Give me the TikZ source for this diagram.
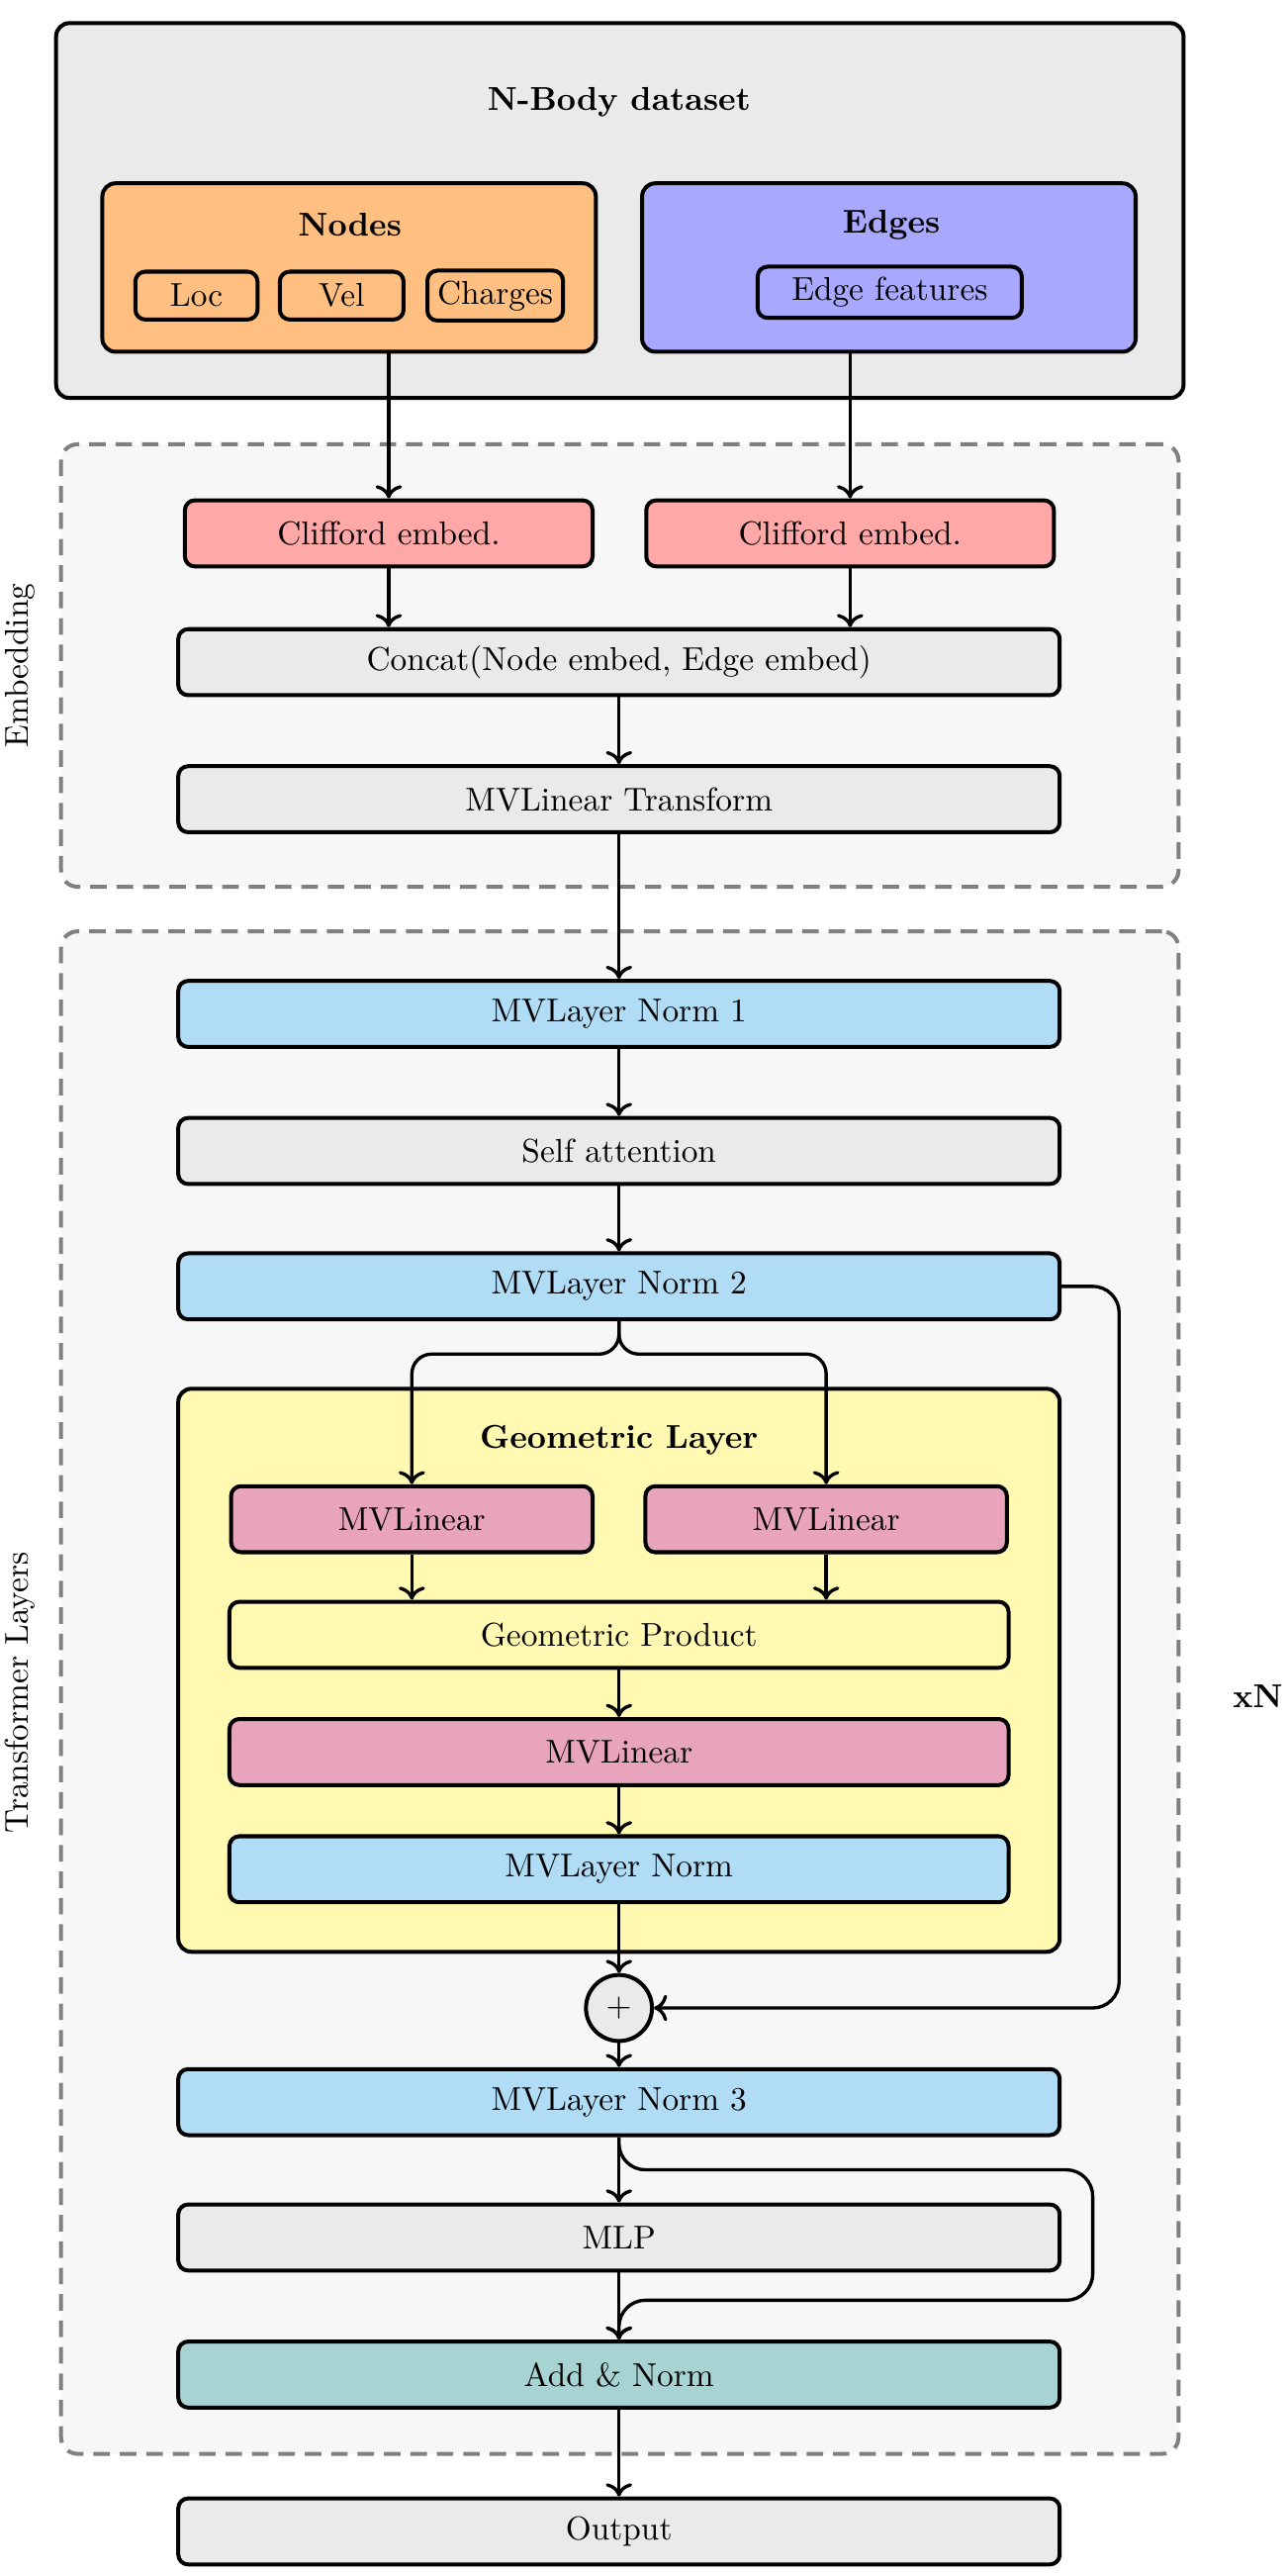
\documentclass[tikz,border=0pt]{standalone}
\usepackage{tikz}
\usetikzlibrary{arrows.meta}

\definecolor{boxgray}{HTML}{EAEAEA}
\definecolor{bggray}{HTML}{F7F7F7}
\definecolor{nodeorange}{HTML}{FFBF80}
\definecolor{edgeblue}{HTML}{A8A8FF}
\definecolor{embred}{HTML}{FFA8A8}
\definecolor{normblue}{HTML}{B1DCF6}
\definecolor{linpink}{HTML}{E8A4BD}
\definecolor{geoyellow}{HTML}{FFF9B1}
\definecolor{addteal}{HTML}{A7D3D3}

\begin{document}
\begin{tikzpicture}[x=0.5pt, y=-0.5pt,
    block/.style={draw, very thick, rounded corners=3pt, minimum height=20pt, inner sep=3pt},
    wide/.style={block, minimum width=267pt},
    half/.style={block, minimum width=123.5pt},
    inner/.style={block, minimum width=236pt},
    small/.style={block, minimum width=109.5pt},
    tag/.style={draw, very thick, rounded corners=3pt, inner sep=3pt, minimum height=14.5pt},
    group/.style={draw=gray, very thick, dash pattern=on 5pt off 3pt, rounded corners=5pt, fill=bggray},
    arr/.style={-{To[length=4pt, width=8pt]}, line width=1pt}]
  \useasboundingbox (0,0) rectangle (780,1560);

  % input data
  \node[draw, very thick, rounded corners=4pt, fill=boxgray, minimum width=341.5pt, minimum height=113.5pt] (data) at (375.5,127.5) {};
  \node[font=\bfseries] (datatitle) at (375,62) {N-Body dataset};
  \node[draw, very thick, rounded corners=4pt, fill=nodeorange, minimum width=149.5pt, minimum height=51pt] (nodes) at (211.5,162) {};
  \node[font=\bfseries] (nodestitle) at (212,136) {Nodes};
  \node[tag, minimum width=37pt] (loc) at (119,179) {Loc};
  \node[tag, minimum width=37.5pt] (vel) at (207,179) {Vel};
  \node[tag] (charges) at (300,179) {Charges};
  \node[draw, very thick, rounded corners=4pt, fill=edgeblue, minimum width=149.5pt, minimum height=51pt] (edges) at (538.5,162) {};
  \node[font=\bfseries] (edgestitle) at (540,136) {Edges};
  \node[tag, minimum width=80pt, minimum height=15.5pt] (efeat) at (539,177) {Edge features};

  % embedding
  \node[group, minimum width=338.5pt, minimum height=134pt] (embgroup) at (375.5,403) {};
  \node[rotate=90] (emblabel) at (12,403) {Embedding};
  \node[half, fill=embred] (emb1) at (235.5,323) {Clifford embed.};
  \node[half, fill=embred] (emb2) at (515,323) {Clifford embed.};
  \node[wide, fill=boxgray] (concat) at (375,401) {Concat(Node embed, Edge embed)};
  \node[wide, fill=boxgray] (mvtrans) at (375,484) {MVLinear Transform};

  % transformer layers
  \node[group, minimum width=338.5pt, minimum height=461pt] (trgroup) at (375.5,1025) {};
  \node[rotate=90] (trlabel) at (12,1025) {Transformer Layers};
  \node[font=\bfseries] (times) at (762,1027) {xN};
  \node[wide, fill=normblue] (norm1) at (375,614) {MVLayer Norm 1};
  \node[wide, fill=boxgray] (attn) at (375,697) {Self attention};
  \node[wide, fill=normblue] (norm2) at (375,779) {MVLayer Norm 2};

  \node[draw, very thick, rounded corners=4pt, fill=geoyellow, minimum width=267pt, minimum height=170.5pt] (geo) at (375,1011.5) {};
  \node[font=\bfseries] (geotitle) at (375,872) {Geometric Layer};
  \node[small, fill=linpink] (lin1) at (249.5,920) {MVLinear};
  \node[small, fill=linpink] (lin2) at (500.5,920) {MVLinear};
  \node[inner, fill=geoyellow] (prod) at (375,990) {Geometric Product};
  \node[inner, fill=linpink] (lin3) at (375,1061) {MVLinear};
  \node[inner, fill=normblue] (geonorm) at (375,1132) {MVLayer Norm};

  \node[circle, draw, very thick, fill=boxgray, minimum size=20pt, inner sep=0pt] (plus) at (375,1216) {$+$};
  \node[wide, fill=normblue] (norm3) at (375,1273) {MVLayer Norm 3};
  \node[wide, fill=boxgray] (mlp) at (375,1355) {MLP};
  \node[wide, fill=addteal] (addnorm) at (375,1438) {Add \& Norm};
  \node[wide, fill=boxgray] (output) at (375,1533) {Output};

  % connectors
  \draw[arr] (nodes.south -| emb1) -- (emb1.north);
  \draw[arr] (edges.south -| emb2) -- (emb2.north);
  \draw[arr] (emb1) -- (concat.north -| emb1);
  \draw[arr] (emb2) -- (concat.north -| emb2);
  \draw[arr] (concat) -- (mvtrans);
  \draw[arr] (mvtrans) -- (norm1);
  \draw[arr] (norm1) -- (attn);
  \draw[arr] (attn) -- (norm2);
  \coordinate (fork) at (375,820);
  \draw[arr, rounded corners=6pt] (norm2.south) |- (fork -| lin1) -- (lin1.north);
  \draw[arr, rounded corners=6pt] (norm2.south) |- (fork -| lin2) -- (lin2.north);
  \draw[arr] (lin1) -- (prod.north -| lin1);
  \draw[arr] (lin2) -- (prod.north -| lin2);
  \draw[arr] (prod) -- (lin3);
  \draw[arr] (lin3) -- (geonorm);
  \draw[arr] (geonorm) -- (plus);
  \coordinate (skip) at (678,1216);
  \draw[arr, rounded corners=8pt] (norm2.east) -| (skip) -- (plus.east);
  \draw[arr] (plus) -- (norm3);
  \draw[arr] (norm3) -- (mlp);
  \coordinate (byR) at (662,1314);
  \coordinate (byL) at (375,1393);
  \draw[arr, rounded corners=8pt] (norm3.south) |- (byR) |- (byL) -- (addnorm.north);
  \draw[arr] (mlp) -- (addnorm);
  \draw[arr] (addnorm) -- (output);
\end{tikzpicture}
\end{document}
